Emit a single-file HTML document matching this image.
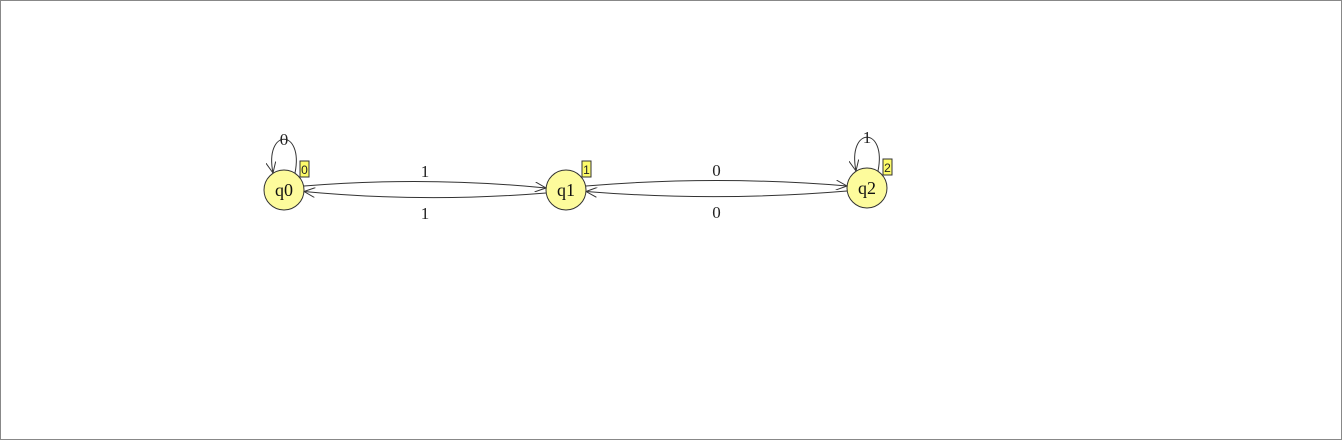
<!DOCTYPE html>
<html><head><meta charset="utf-8"><style>
body{margin:0;background:#fff}
svg{display:block}
text{font-family:"Liberation Serif",serif}
text.badge{font-family:"Liberation Sans",sans-serif}
</style></head><body>
<svg id="c" width="1343" height="440">
<rect x="0.5" y="0.5" width="1341" height="439" fill="#fff" stroke="#888"/>
<defs><marker id="ah" markerWidth="12" markerHeight="10" refX="11" refY="5" orient="auto" markerUnits="userSpaceOnUse"><path d="M0,0 L11,5 L0,10" fill="none" stroke="#333" stroke-width="1"/></marker></defs>
<g id="g"></g>
</svg>
<script>
const stateNames=["q0","q1","q2"];
const stateX=[284,566,867];
const stateY=[190,190,188];
const transFrom=[0,1,1,2,0,2];
const transTo=[1,0,2,1,0,2];
const transLabel=["1","1","0","0","0","1"];
const R=20,NS="http://www.w3.org/2000/svg",g=document.getElementById('g');
function mk(t,a){const e=document.createElementNS(NS,t);for(const k in a)e.setAttribute(k,a[k]);g.appendChild(e);return e;}
for(let i=0;i<transFrom.length;i++){
  const a=transFrom[i],b=transTo[i];
  let p,lx,ly;
  if(a===b){
    const x=stateX[a],y=stateY[a];
    p=`M${x+11},${y-17} C${x+20},${y-62} ${x-20},${y-62} ${x-11},${y-17}`;
    lx=x;ly=y-50;
  }else{
    const x1=stateX[a],y1=stateY[a],x2=stateX[b],y2=stateY[b];
    const dir=x2>x1?1:-1, off=dir>0?-4:3, bend=dir>0?-10:10;
    const sx=x1+dir*R, ex=x2-dir*R, mx=(sx+ex)/2;
    p=`M${sx},${y1+off} Q${mx},${(y1+y2)/2+off+bend} ${ex},${y2+off/2}`;
    lx=mx;ly=(y1+y2)/2+(dir>0?-18:24);
  }
  const e=mk('path',{d:p,fill:'none',stroke:'#333','stroke-width':1,'marker-end':'url(#ah)'});
  
  
  const t=mk('text',{x:lx,y:ly+5,'text-anchor':'middle','font-size':17,fill:'#222'});
  t.textContent=transLabel[i];
  
  
}
for(let i=0;i<stateNames.length;i++){
  const x=stateX[i],y=stateY[i];
  const c=mk('circle',{cx:x,cy:y,r:R,fill:'#fdfb9c',stroke:'#333','stroke-width':1});
  
  
  const t=mk('text',{x:x,y:y+6,'text-anchor':'middle','font-size':18,fill:'#111'});
  t.textContent=stateNames[i];
  
  
  const b=mk('rect',{x:x+16,y:y-29,width:9,height:16,fill:'#fdfb6a',stroke:'#333','stroke-width':1});
  
  
  const bt=mk('text',{x:x+20.5,y:y-16,'text-anchor':'middle','font-size':12,'class':'badge',fill:'#222'});
  bt.textContent=String(i);
  
  
}
</script>
</body></html>
